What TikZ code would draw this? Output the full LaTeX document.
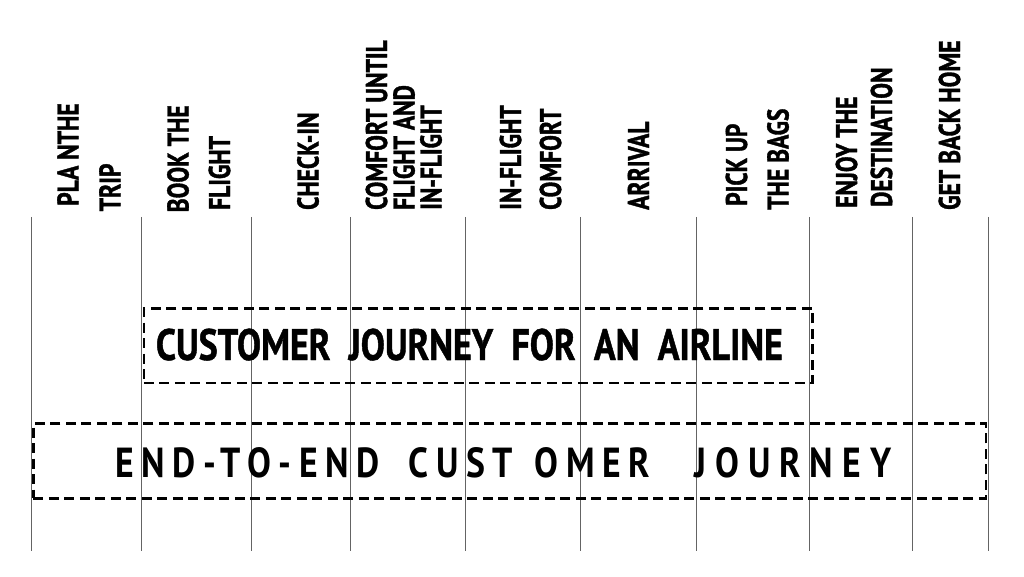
\documentclass[tikz,border=0pt]{standalone}
\usepackage{fontspec}
\newfontfamily\labfont[FakeStretch=0.785,FakeBold=1.2]{PT Sans}
\newfontfamily\titlefont[FakeStretch=0.82,FakeBold=1]{PT Sans}
\newfontfamily\spacedfont[FakeStretch=0.85,LetterSpace=18]{PT Sans}
\newfontfamily\widerfont[FakeStretch=0.85,LetterSpace=21.5]{PT Sans}
\definecolor{linegray}{RGB}{100,100,100}
\tikzset{
  lab/.style={rotate=90,anchor=base west,inner sep=0pt,font=\labfont\bfseries\fontsize{30}{30}\selectfont},
  vline/.style={draw=linegray,line width=1pt},
  dashbox/.style={draw=black,line width=2.3pt,dash pattern=on 10pt off 5.5pt,inner sep=0pt,anchor=north west},
}
\begin{document}
\begin{tikzpicture}[x=1pt,y=-1pt]
\useasboundingbox (0,0) rectangle (1024,577);
% vertical lines
\foreach \x [count=\i] in {31.5,141.8,251.7,350.3,465.7,580,696,809.5,912,988}{
  \coordinate (t\i) at (\x,217);
  \coordinate (b\i) at (\x,551);
  \draw[vline] (t\i) -- (b\i);
}
% labels
\node[lab] (l1a) at (78.5,206) {PLA NTHE};
\node[lab] (l1b) at (120.5,211.5) {TRIP};
\node[lab] (l2a) at (188.5,212.5) {BOOK THE};
\node[lab] (l2b) at (230,210) {FLIGHT};
\node[lab] (l3a) at (318.5,210) {CHECK-IN};
\node[lab] (l4a) at (387,210) {COMFORT UNTIL};
\node[lab] (l4b) at (414.5,210) {FLIGHT AND};
\node[lab] (l4c) at (441.5,210) {IN-FLIGHT};
\node[lab] (l5a) at (521,210) {IN-FLIGHT};
\node[lab] (l5b) at (561,210) {COMFORT};
\node[lab] (l6a) at (649,210) {ARRIVAL};
\node[lab] (l7a) at (747,206) {PICK UP};
\node[lab] (l7b) at (788.5,210) {THE BAGS};
\node[lab] (l8a) at (857,208) {ENJOY THE};
\node[lab] (l8b) at (892,207) {DESTINATION};
\node[lab] (l9a) at (960,210) {GET BACK HOME};
% boxes
\node[dashbox,minimum width=668.6pt,minimum height=74.7pt] (box1) at (142.7,307.3) {};
\node[anchor=base west,inner sep=0pt,font=\titlefont\bfseries\fontsize{44}{44}\selectfont] (txt1) at (155.7,360) {CUSTOMER\ \ JOURNEY\ \ FOR\ \ AN\ \ AIRLINE};
\node[dashbox,minimum width=952.4pt,minimum height=75pt] (box2) at (32.3,422.3) {};
\node[anchor=base west,inner sep=0pt,font=\spacedfont\bfseries\fontsize{42}{42}\selectfont] (txt2) at (115,477.7) {END-TO-END\hspace{29pt}CUST\hspace{22pt}OMER\hspace{44pt}{\widerfont JOURNEY}};
\end{tikzpicture}
\end{document}
